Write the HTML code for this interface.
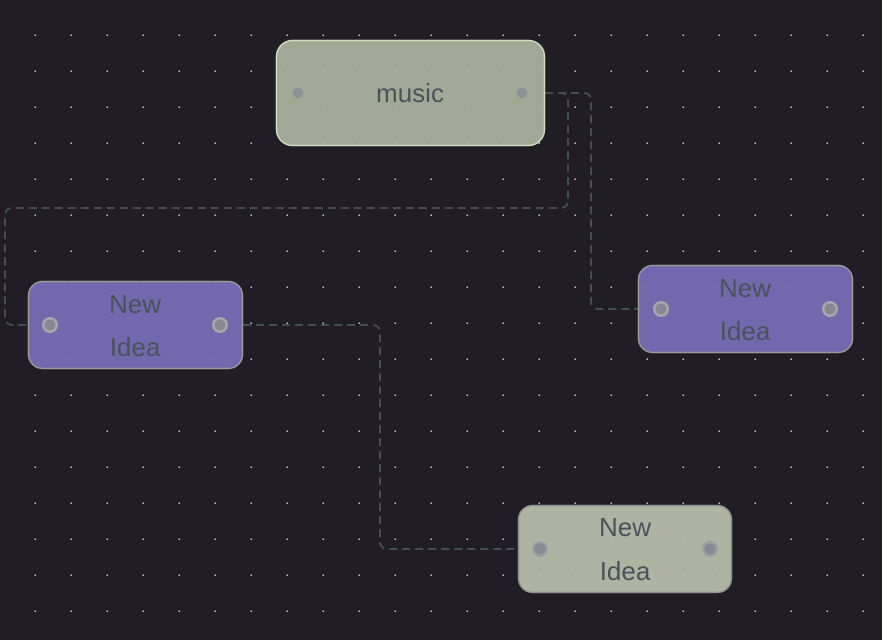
<!DOCTYPE html>
<html><head><meta charset="utf-8"><style>
html,body{margin:0;padding:0;background:#201e24;width:882px;height:640px;overflow:hidden}
svg{display:block}
text{font-family:"Liberation Sans","DejaVu Sans",sans-serif;fill:#4a535a;font-size:26px;text-anchor:middle}
</style></head><body>
<svg width="882" height="640" viewBox="0 0 882 640" xmlns="http://www.w3.org/2000/svg">
<defs>
<pattern id="g" x="0" y="0" width="36" height="36" patternUnits="userSpaceOnUse">
<rect x="34.5" y="34.5" width="2" height="2" fill="#c4c4c8"/>
</pattern>
</defs>
<rect width="882" height="640" fill="#201e24"/>
<rect width="882" height="640" fill="url(#g)"/>
<g fill="none" stroke="#464d51" stroke-width="2" stroke-dasharray="8 5">
<path d="M545 93 H560 Q568 93 568 101 V200 Q568 208 560 208 H13 Q5 208 5 216 V317 Q5 325 13 325 H28"/>
<path d="M545 93 H583 Q591 93 591 101 V301 Q591 309 599 309 H638"/>
<path d="M243 325 H372 Q380 325 380 333 V541 Q380 549 388 549 H518"/>
</g>
<rect x="276.5" y="40.5" width="268" height="105" rx="16" fill="#a9b09c" fill-opacity="0.95" stroke="#cfdcbf" stroke-width="1.5"/>
<circle cx="298" cy="93" r="5" fill="#8b8f98"/>
<circle cx="522" cy="93" r="5" fill="#8b8f98"/>
<text x="410" y="102">music</text>

<rect x="28.5" y="281.5" width="214" height="87" rx="14" fill="#786bb6" fill-opacity="0.95" stroke="#9a9a9a" stroke-width="1.5"/>
<circle cx="50" cy="325" r="8" fill="#a9a9ab"/><circle cx="50" cy="325" r="5.5" fill="#8a8794"/>
<circle cx="220" cy="325" r="8" fill="#a9a9ab"/><circle cx="220" cy="325" r="5.5" fill="#8a8794"/>
<text x="135" y="313">New</text><text x="135" y="356">Idea</text>

<rect x="638.5" y="265.5" width="214" height="87" rx="14" fill="#786bb6" fill-opacity="0.95" stroke="#9a9a9a" stroke-width="1.5"/>
<circle cx="661" cy="309" r="8" fill="#a9a9ab"/><circle cx="661" cy="309" r="5.5" fill="#8a8794"/>
<circle cx="830" cy="309" r="8" fill="#a9a9ab"/><circle cx="830" cy="309" r="5.5" fill="#8a8794"/>
<text x="745" y="297">New</text><text x="745" y="340">Idea</text>

<rect x="518.5" y="505.5" width="213" height="87" rx="14" fill="#b7bdaa" fill-opacity="0.95" stroke="#8e8e8e" stroke-width="1.5"/>
<circle cx="540" cy="549" r="8" fill="#9c9fa0"/><circle cx="540" cy="549" r="5.5" fill="#878a93"/>
<circle cx="710" cy="549" r="8" fill="#9c9fa0"/><circle cx="710" cy="549" r="5.5" fill="#878a93"/>
<text x="625" y="536">New</text><text x="625" y="580">Idea</text>
</svg>
</body></html>
